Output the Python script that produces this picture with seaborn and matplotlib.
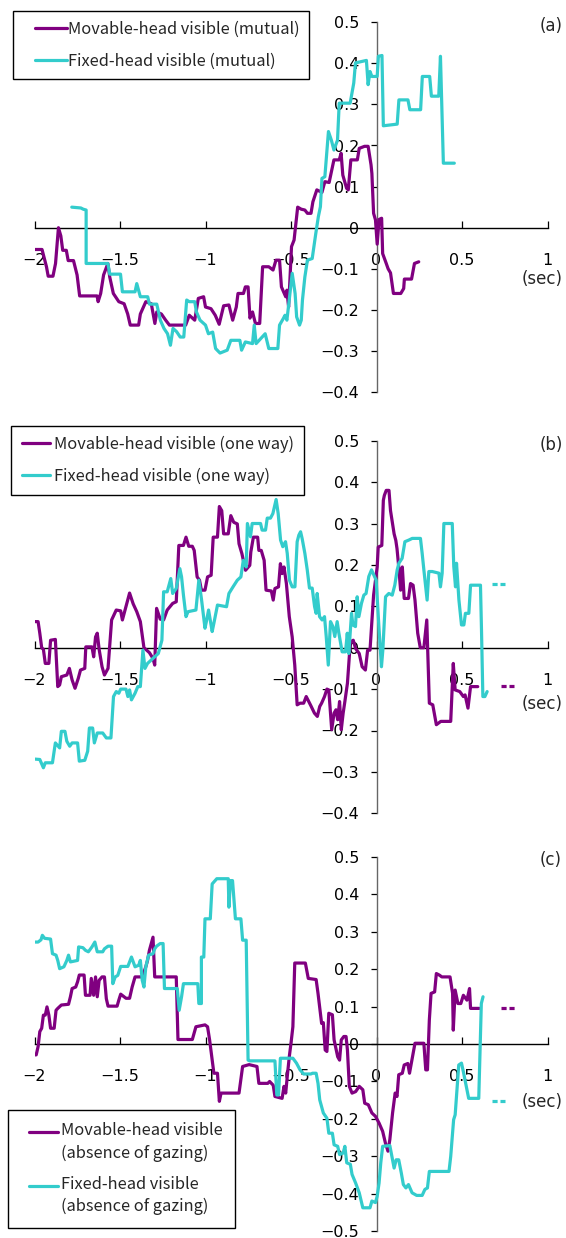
import numpy as np
import matplotlib
matplotlib.use("Agg")
import matplotlib.pyplot as plt
import seaborn as sns
from matplotlib.legend_handler import HandlerLine2D

# ---------------------------------------------------------------------------
# Cross-correlation curves, time lag in seconds vs. correlation value
# ---------------------------------------------------------------------------

# (a) mutual gaze
mov_mutual = [(-2.0,-0.053),(-1.956,-0.053),(-1.93,-0.095),(-1.92,-0.118),(-1.892,-0.118),(-1.877,-0.087),
    (-1.86,0.0),(-1.846,-0.02),(-1.835,-0.055),(-1.814,-0.055),(-1.803,-0.08),(-1.772,-0.08),(-1.751,-0.115),
    (-1.736,-0.166),(-1.634,-0.166),(-1.628,-0.18),(-1.613,-0.16),(-1.596,-0.115),(-1.571,-0.087),(-1.56,-0.12),
    (-1.539,-0.16),(-1.507,-0.18),(-1.476,-0.185),(-1.455,-0.21),(-1.44,-0.237),(-1.391,-0.237),(-1.381,-0.21),
    (-1.349,-0.18),(-1.317,-0.185),(-1.296,-0.233),(-1.285,-0.205),(-1.258,-0.21),(-1.233,-0.225),(-1.211,-0.237),
    (-1.116,-0.237),(-1.095,-0.213),(-1.063,-0.225),(-1.042,-0.172),(-1.011,-0.168),(-1.0,-0.193),(-0.968,-0.197),
    (-0.943,-0.213),(-0.92,-0.235),(-0.894,-0.19),(-0.863,-0.188),(-0.841,-0.225),(-0.82,-0.193),(-0.81,-0.16),
    (-0.778,-0.16),(-0.767,-0.144),(-0.751,-0.144),(-0.74,-0.22),(-0.725,-0.205),(-0.708,-0.233),(-0.683,-0.233),
    (-0.666,-0.095),(-0.63,-0.095),(-0.605,-0.103),(-0.588,-0.079),(-0.567,-0.079),(-0.556,-0.144),(-0.531,-0.168),
    (-0.524,-0.152),(-0.514,-0.193),(-0.497,-0.046),(-0.482,-0.03),(-0.461,0.05),(-0.44,0.045),(-0.419,0.043),
    (-0.404,0.035),(-0.383,0.035),(-0.372,0.063),(-0.349,0.092),(-0.319,0.086),(-0.302,0.112),(-0.277,0.11),
    (-0.249,0.165),(-0.218,0.165),(-0.207,0.181),(-0.197,0.128),(-0.175,0.096),(-0.165,0.092),(-0.15,0.165),
    (-0.112,0.165),(-0.101,0.193),(-0.07,0.198),(-0.049,0.198),(-0.032,0.153),(-0.027,0.132),(-0.017,0.035),
    (-0.006,0.019),(0.004,-0.04),(0.015,0.02),(0.03,0.023),(0.036,-0.063),(0.057,-0.087),(0.068,-0.1),
    (0.082,-0.11),(0.099,-0.16),(0.142,-0.16),(0.159,-0.148),(0.163,-0.125),(0.205,-0.125),(0.222,-0.087),
    (0.247,-0.083)]

fix_mutual = [(-1.782,0.05),(-1.729,0.048),(-1.715,0.045),(-1.698,0.043),(-1.698,-0.087),(-1.571,-0.087),
    (-1.56,-0.113),(-1.497,-0.113),(-1.486,-0.156),(-1.412,-0.156),(-1.402,-0.136),(-1.381,-0.168),(-1.338,-0.168),
    (-1.328,-0.186),(-1.285,-0.186),(-1.264,-0.225),(-1.243,-0.245),(-1.222,-0.258),(-1.205,-0.286),(-1.19,-0.245),
    (-1.169,-0.253),(-1.148,-0.266),(-1.127,-0.266),(-1.11,-0.176),(-1.095,-0.18),(-1.063,-0.18),(-1.053,-0.205),
    (-1.032,-0.225),(-1.0,-0.237),(-0.983,-0.258),(-0.958,-0.254),(-0.941,-0.294),(-0.915,-0.305),(-0.873,-0.298),
    (-0.852,-0.274),(-0.799,-0.274),(-0.789,-0.298),(-0.767,-0.278),(-0.725,-0.282),(-0.715,-0.237),(-0.704,-0.282),
    (-0.651,-0.258),(-0.63,-0.294),(-0.577,-0.294),(-0.567,-0.237),(-0.545,-0.221),(-0.535,-0.213),(-0.524,-0.225),
    (-0.514,-0.189),(-0.493,-0.111),(-0.476,-0.16),(-0.467,-0.217),(-0.45,-0.237),(-0.44,-0.225),(-0.433,-0.176),
    (-0.419,-0.12),(-0.404,-0.079),(-0.376,-0.075),(-0.355,-0.014),(-0.34,0.027),(-0.328,0.051),(-0.319,0.12),
    (-0.302,0.124),(-0.281,0.234),(-0.264,0.213),(-0.249,0.189),(-0.228,0.213),(-0.218,0.303),(-0.154,0.303),
    (-0.133,0.352),(-0.123,0.401),(-0.059,0.407),(-0.049,0.348),(-0.038,0.38),(-0.027,0.368),(0.004,0.368),
    (0.011,0.417),(0.032,0.419),(0.04,0.248),(0.121,0.252),(0.131,0.311),(0.184,0.311),(0.195,0.287),
    (0.258,0.287),(0.268,0.368),(0.311,0.368),(0.321,0.32),(0.364,0.32),(0.374,0.417),(0.391,0.157),(0.455,0.157)]

# (b) one-way gaze
mov_oneway = [(-2.0,0.063),(-1.979,0.063),(-1.969,0.035),(-1.958,0.0),(-1.948,-0.004),(-1.937,-0.038),
    (-1.916,-0.038),(-1.906,0.018),(-1.878,0.02),(-1.864,-0.094),(-1.853,-0.09),(-1.843,-0.07),(-1.811,-0.066),
    (-1.796,-0.05),(-1.78,-0.078),(-1.763,-0.098),(-1.744,-0.074),(-1.731,-0.054),(-1.706,-0.05),(-1.7,0.002),
    (-1.664,0.002),(-1.654,-0.022),(-1.643,0.026),(-1.633,0.035),(-1.622,-0.004),(-1.605,-0.046),(-1.591,-0.066),
    (-1.57,-0.05),(-1.549,0.067),(-1.522,0.091),(-1.496,0.089),(-1.486,0.067),(-1.465,0.1),(-1.444,0.132),
    (-1.423,0.106),(-1.402,0.087),(-1.381,0.063),(-1.36,0.0),(-1.328,-0.012),(-1.307,-0.026),(-1.297,-0.042),
    (-1.286,0.095),(-1.265,0.069),(-1.245,0.067),(-1.224,0.091),(-1.192,0.107),(-1.171,0.111),(-1.156,0.247),
    (-1.129,0.247),(-1.114,0.267),(-1.098,0.245),(-1.077,0.245),(-1.066,0.235),(-1.049,0.171),(-1.035,0.163),
    (-1.024,0.139),(-1.003,0.139),(-0.988,0.171),(-0.967,0.175),(-0.955,0.267),(-0.93,0.267),(-0.919,0.341),
    (-0.905,0.331),(-0.894,0.275),(-0.867,0.275),(-0.852,0.319),(-0.835,0.303),(-0.814,0.299),(-0.804,0.251),
    (-0.787,0.227),(-0.766,0.187),(-0.741,0.199),(-0.735,0.231),(-0.72,0.267),(-0.695,0.267),(-0.688,0.235),
    (-0.674,0.235),(-0.657,0.211),(-0.646,0.139),(-0.615,0.137),(-0.604,0.115),(-0.594,0.143),(-0.573,0.147),
    (-0.562,0.203),(-0.552,0.179),(-0.541,0.195),(-0.527,0.155),(-0.51,0.075),(-0.493,0.026),(-0.478,-0.042),
    (-0.464,-0.138),(-0.447,-0.134),(-0.426,-0.134),(-0.411,-0.118),(-0.384,-0.14),(-0.363,-0.158),(-0.346,-0.166),
    (-0.332,-0.142),(-0.321,-0.134),(-0.304,-0.118),(-0.29,-0.1),(-0.279,-0.102),(-0.262,-0.198),(-0.248,-0.158),
    (-0.237,-0.15),(-0.227,-0.174),(-0.216,-0.13),(-0.206,-0.198),(-0.195,-0.158),(-0.185,-0.13),(-0.17,-0.086),
    (-0.153,0.014),(-0.136,0.018),(-0.122,-0.002),(-0.101,-0.014),(-0.084,-0.046),(-0.065,-0.054),(-0.052,-0.006),
    (-0.038,-0.006),(-0.017,0.127),(0.004,0.195),(0.01,0.243),(0.031,0.247),(0.04,0.356),(0.046,0.368),
    (0.057,0.38),(0.073,0.38),(0.082,0.331),(0.103,0.275),(0.113,0.259),(0.12,0.239),(0.13,0.195),(0.141,0.139),
    (0.151,0.195),(0.162,0.119),(0.187,0.119),(0.199,0.155),(0.214,0.151),(0.225,0.115),(0.241,0.035),(0.256,0.0),
    (0.277,0.0),(0.294,0.067),(0.309,-0.134),(0.329,-0.138),(0.35,-0.186),(0.376,-0.178),(0.434,-0.178),
    (0.449,-0.038),(0.46,-0.102),(0.487,-0.106),(0.508,-0.118),(0.518,-0.114),(0.535,-0.146),(0.55,-0.094),
    (0.592,-0.094)]

fix_oneway = [(-2.0,-0.269),(-1.969,-0.27),(-1.948,-0.29),(-1.937,-0.278),(-1.895,-0.278),(-1.878,-0.23),
    (-1.853,-0.242),(-1.843,-0.202),(-1.822,-0.202),(-1.811,-0.226),(-1.794,-0.238),(-1.78,-0.23),(-1.748,-0.23),
    (-1.738,-0.274),(-1.706,-0.272),(-1.689,-0.25),(-1.679,-0.194),(-1.66,-0.194),(-1.65,-0.23),(-1.633,-0.206),
    (-1.601,-0.206),(-1.58,-0.218),(-1.553,-0.218),(-1.538,-0.118),(-1.522,-0.106),(-1.507,-0.11),(-1.496,-0.1),
    (-1.465,-0.1),(-1.454,-0.118),(-1.444,-0.102),(-1.433,-0.126),(-1.412,-0.11),(-1.396,-0.094),(-1.381,-0.094),
    (-1.366,-0.006),(-1.354,-0.05),(-1.339,-0.038),(-1.318,-0.03),(-1.297,-0.022),(-1.276,-0.014),(-1.255,0.018),
    (-1.245,0.135),(-1.224,0.135),(-1.203,0.167),(-1.192,0.131),(-1.171,0.143),(-1.15,0.191),(-1.14,0.171),
    (-1.129,0.127),(-1.114,0.075),(-1.102,0.087),(-1.056,0.091),(-1.039,0.163),(-1.024,0.119),(-1.003,0.047),
    (-0.993,0.067),(-0.982,0.091),(-0.961,0.039),(-0.951,0.059),(-0.93,0.103),(-0.877,0.099),(-0.863,0.131),
    (-0.839,0.147),(-0.814,0.163),(-0.793,0.171),(-0.779,0.211),(-0.762,0.195),(-0.755,0.300),(-0.737,0.268),
    (-0.727,0.300),(-0.678,0.300),(-0.669,0.284),(-0.649,0.284),(-0.639,0.313),(-0.620,0.313),(-0.606,0.324),
    (-0.587,0.358),(-0.575,0.324),(-0.561,0.260),(-0.548,0.244),(-0.532,0.256),(-0.522,0.228),(-0.509,0.163),
    (-0.493,0.147),(-0.477,0.147),(-0.464,0.256),(-0.454,0.272),(-0.444,0.280),(-0.435,0.264),(-0.419,0.228),
    (-0.405,0.188),(-0.392,0.144),(-0.376,0.144),(-0.362,0.099),(-0.353,0.083),(-0.347,0.131),(-0.333,0.075),
    (-0.318,0.067),(-0.304,0.075),(-0.294,0.027),(-0.282,-0.042),(-0.269,0.063),(-0.255,0.051),(-0.244,0.027),
    (-0.230,0.063),(-0.220,0.035),(-0.201,-0.010),(-0.181,-0.010),(-0.171,0.035),(-0.162,-0.014),(-0.146,0.083),
    (-0.138,0.055),(-0.123,0.051),(-0.113,0.123),(-0.103,0.075),(-0.088,0.107),(-0.074,0.127),(-0.061,0.131),
    (-0.045,0.172),(-0.029,0.188),(-0.016,0.176),(-0.002,0.163),(0.014,0.051),(0.029,-0.046),(0.037,-0.006),
    (0.053,0.123),(0.072,0.131),(0.092,0.127),(0.107,0.151),(0.121,0.188),(0.131,0.204),(0.150,0.216),
    (0.166,0.256),(0.189,0.260),(0.209,0.264),(0.257,0.264),(0.267,0.228),(0.277,0.188),(0.296,0.115),
    (0.306,0.184),(0.326,0.184),(0.365,0.180),(0.374,0.147),(0.384,0.180),(0.394,0.300),(0.443,0.300),
    (0.452,0.196),(0.462,0.147),(0.468,0.204),(0.482,0.115),(0.497,0.055),(0.511,0.055),(0.520,0.083),
    (0.540,0.083),(0.550,0.151),(0.608,0.151),(0.614,0.043),(0.622,-0.118),(0.634,-0.118),(0.647,-0.106)]

mov_oneway_tail = [(0.728,-0.093),(0.805,-0.093)]
fix_oneway_tail = [(0.676,0.155),(0.749,0.155)]

# (c) absence of gazing
mov_absence = [(-2.0,-0.029),(-1.99,-0.029),(-1.979,-0.007),(-1.969,0.033),(-1.958,0.042),(-1.948,0.077),
    (-1.937,0.077),(-1.927,0.099),(-1.916,0.077),(-1.906,0.042),(-1.885,0.042),(-1.874,0.09),(-1.864,0.095),
    (-1.843,0.104),(-1.801,0.106),(-1.79,0.126),(-1.78,0.148),(-1.759,0.152),(-1.748,0.166),(-1.738,0.184),
    (-1.71,0.184),(-1.702,0.13),(-1.675,0.13),(-1.668,0.175),(-1.654,0.13),(-1.643,0.179),(-1.633,0.126),
    (-1.622,0.17),(-1.605,0.179),(-1.591,0.179),(-1.58,0.121),(-1.57,0.101),(-1.517,0.101),(-1.507,0.117),
    (-1.496,0.133),(-1.465,0.122),(-1.444,0.122),(-1.429,0.152),(-1.412,0.179),(-1.37,0.179),(-1.349,0.206),
    (-1.339,0.223),(-1.328,0.25),(-1.312,0.277),(-1.307,0.285),(-1.297,0.179),(-1.171,0.179),(-1.161,0.012),
    (-1.077,0.012),(-1.056,0.046),(-1.003,0.051),(-0.988,0.046),(-0.976,0.011),(-0.961,-0.043),(-0.951,-0.078),
    (-0.93,-0.078),(-0.919,-0.153),(-0.909,-0.131),(-0.804,-0.131),(-0.783,-0.06),(-0.745,-0.055),(-0.699,-0.06),
    (-0.688,-0.105),(-0.636,-0.105),(-0.625,-0.1),(-0.604,-0.11),(-0.594,-0.14),(-0.552,-0.145),(-0.541,-0.113),
    (-0.531,-0.131),(-0.52,-0.078),(-0.51,-0.034),(-0.499,0.006),(-0.489,0.046),(-0.478,0.216),(-0.416,0.216),
    (-0.399,0.175),(-0.353,0.172),(-0.342,0.135),(-0.321,0.055),(-0.311,0.057),(-0.3,-0.016),(-0.29,-0.02),
    (-0.279,0.082),(-0.258,0.078),(-0.248,0.011),(-0.227,-0.034),(-0.216,-0.043),(-0.206,0.011),(-0.191,0.02),
    (-0.178,0.02),(-0.17,-0.016),(-0.159,-0.113),(-0.143,-0.131),(-0.122,-0.127),(-0.101,-0.113),(-0.08,-0.122),
    (-0.069,-0.158),(-0.048,-0.162),(-0.027,-0.184),(-0.006,-0.193),(0.015,-0.211),(0.036,-0.233),(0.052,-0.264),
    (0.067,-0.286),(0.078,-0.255),(0.094,-0.184),(0.109,-0.131),(0.12,-0.14),(0.13,-0.082),(0.151,-0.078),
    (0.162,-0.056),(0.183,-0.052),(0.193,-0.078),(0.225,0.002),(0.277,0.002),(0.288,-0.069),(0.298,-0.069),
    (0.309,0.064),(0.319,0.135),(0.34,0.139),(0.35,0.188),(0.367,0.184),(0.382,0.179),(0.43,0.179),(0.445,0.135),
    (0.449,0.037),(0.46,0.144),(0.476,0.108),(0.493,0.108),(0.508,0.13),(0.529,0.117),(0.544,0.148),(0.55,0.095),
    (0.602,0.095)]

fix_absence = [(-2.0,0.272),(-1.979,0.272),(-1.962,0.278),(-1.954,0.29),(-1.941,0.282),(-1.906,0.28),
    (-1.895,0.241),(-1.874,0.237),(-1.864,0.223),(-1.853,0.201),(-1.828,0.206),(-1.811,0.223),(-1.801,0.237),
    (-1.79,0.219),(-1.748,0.223),(-1.742,0.259),(-1.717,0.257),(-1.702,0.25),(-1.685,0.246),(-1.664,0.259),
    (-1.647,0.272),(-1.633,0.246),(-1.601,0.246),(-1.591,0.254),(-1.57,0.261),(-1.549,0.261),(-1.542,0.161),
    (-1.528,0.179),(-1.513,0.183),(-1.496,0.207),(-1.454,0.207),(-1.433,0.232),(-1.412,0.206),(-1.391,0.21),
    (-1.381,0.223),(-1.37,0.17),(-1.36,0.152),(-1.349,0.206),(-1.333,0.237),(-1.307,0.241),(-1.297,0.254),
    (-1.286,0.261),(-1.265,0.268),(-1.248,0.268),(-1.24,0.148),(-1.165,0.148),(-1.154,0.09),(-1.14,0.126),
    (-1.129,0.161),(-1.045,0.161),(-1.039,0.108),(-1.024,0.108),(-1.024,0.232),(-1.01,0.232),(-1.003,0.334),
    (-0.972,0.334),(-0.961,0.427),(-0.934,0.441),(-0.867,0.441),(-0.863,0.365),(-0.854,0.436),(-0.842,0.436),
    (-0.825,0.334),(-0.793,0.334),(-0.783,0.277),(-0.762,0.277),(-0.751,-0.043),(-0.741,-0.045),(-0.594,-0.045),
    (-0.583,-0.136),(-0.573,-0.136),(-0.562,-0.038),(-0.489,-0.038),(-0.468,-0.051),(-0.447,-0.069),(-0.426,-0.08),
    (-0.384,-0.08),(-0.374,-0.078),(-0.353,-0.078),(-0.342,-0.105),(-0.332,-0.149),(-0.311,-0.184),(-0.29,-0.198),
    (-0.279,-0.238),(-0.258,-0.238),(-0.248,-0.269),(-0.227,-0.273),(-0.216,-0.295),(-0.195,-0.291),(-0.185,-0.273),
    (-0.174,-0.317),(-0.153,-0.321),(-0.143,-0.348),(-0.122,-0.371),(-0.101,-0.397),(-0.08,-0.437),(-0.038,-0.437),
    (-0.027,-0.419),(-0.006,-0.423),(0.004,-0.406),(0.015,-0.371),(0.025,-0.317),(0.036,-0.273),(0.078,-0.271),
    (0.088,-0.295),(0.103,-0.331),(0.115,-0.309),(0.13,-0.309),(0.145,-0.344),(0.157,-0.375),(0.172,-0.384),
    (0.187,-0.375),(0.199,-0.388),(0.208,-0.397),(0.235,-0.404),(0.267,-0.404),(0.283,-0.388),(0.298,-0.384),
    (0.309,-0.34),(0.424,-0.34),(0.434,-0.3),(0.451,-0.202),(0.46,-0.189),(0.472,-0.113),(0.481,-0.056),
    (0.497,-0.051),(0.508,-0.074),(0.529,-0.122),(0.539,-0.145),(0.598,-0.145),(0.613,0.108),(0.623,0.126)]

mov_absence_tail = [(0.728,0.097),(0.812,0.097)]
fix_absence_tail = [(0.676,-0.153),(0.749,-0.153)]

# Axis ticks and labels
x_ticks = [-2, -1.5, -1, -0.5, 0, 0.5, 1]
x_tick_labels = ["\u22122", "\u22121.5", "\u22121", "\u22120.5", "0", "0.5", "1"]
y_ticks_ab = [0.5, 0.4, 0.3, 0.2, 0.1, 0.0, -0.1, -0.2, -0.3, -0.4]
y_tick_labels_ab = ["0.5", "0.4", "0.3", "0.2", "0.1", "0", "\u22120.1", "\u22120.2", "\u22120.3", "\u22120.4"]
y_ticks_c = [0.5, 0.4, 0.3, 0.2, 0.1, 0.0, -0.1, -0.2, -0.3, -0.4, -0.5]
y_tick_labels_c = y_tick_labels_ab + ["\u22120.5"]

legend_labels_a = ["Movable-head visible (mutual)", "Fixed-head visible (mutual)"]
legend_labels_b = ["Movable-head visible (one way)", "Fixed-head visible (one way)"]
legend_labels_c = ["Movable-head visible\n(absence of gazing)", "Fixed-head visible\n(absence of gazing)"]

PURPLE = "#800080"
CYAN = "#33CCCC"
LW = 2.3
TICK_FONT = "DejaVu Sans"
LEG_FS = 11.8

# ---------------------------------------------------------------------------
sns.set_style("white")
plt.rcParams["font.family"] = ["Noto Sans CJK JP", "DejaVu Sans"]

W, H = 566, 1238
fig = plt.figure(figsize=(W / 100, H / 100), dpi=100)
fig.patch.set_facecolor("white")


def px_axes(left, top, right, bottom):
    """Create axes from a pixel box measured from the top-left corner."""
    return fig.add_axes([left / W, 1 - bottom / H, (right - left) / W, (bottom - top) / H])


class FirstLineHandler(HandlerLine2D):
    """Legend line handler that can lift the sample line to a label's first row."""

    def __init__(self, dy=0.0, **kw):
        super().__init__(**kw)
        self.dy = dy

    def create_artists(self, legend, orig_handle, xdescent, ydescent, width, height, fontsize, trans):
        arts = super().create_artists(legend, orig_handle, xdescent, ydescent, width, height, fontsize, trans)
        for a in arts:
            a.set_ydata(np.asarray(a.get_ydata(), dtype=float) + self.dy)
        return arts


def draw_curve(ax, pts, color, **kw):
    arr = np.asarray(pts, dtype=float)
    sns.lineplot(x=arr[:, 0], y=arr[:, 1], sort=False, estimator=None, color=color,
                 linewidth=LW, ax=ax, legend=False, zorder=3, **kw)
    return ax.lines[-1]


def style_axes(ax, ylim, yticks, ylabels, sec_y, letter):
    ax.set_xlim(-2, 1)
    ax.set_ylim(*ylim)
    ax.set_facecolor("none")
    for side in ("top", "right"):
        ax.spines[side].set_visible(False)
    ax.spines["left"].set_position(("data", 0))
    ax.spines["bottom"].set_position(("data", 0))
    ax.spines["left"].set_color("#666666")
    ax.spines["bottom"].set_color("black")
    ax.spines["left"].set_linewidth(1.0)
    ax.spines["bottom"].set_linewidth(1.0)
    ax.set_xticks(x_ticks)
    ax.set_xticklabels(x_tick_labels, fontfamily=TICK_FONT)
    ax.set_yticks(yticks)
    ax.set_yticklabels(ylabels, fontfamily=TICK_FONT)
    ax.tick_params(axis="x", bottom=True, direction="in", length=5, width=0.9,
                   pad=18, labelsize=11.5, colors="black")
    ax.tick_params(axis="y", left=True, direction="out", length=4.5, width=0.9,
                   pad=8, labelsize=11.5, colors="black")
    ax.set_xlabel("")
    ax.set_ylabel("")
    ax.text(0.97, sec_y, "(sec)", ha="center", va="center", fontsize=12,
            fontfamily=TICK_FONT, clip_on=False)
    ax.text(1.02, ylim[1] - 0.01, letter, ha="center", va="center", fontsize=12,
            fontfamily=TICK_FONT, clip_on=False)


def add_legend(ax, handles, labels, box_left, box_top, handlelength, handletextpad,
               xpad=0.0, borderpad=0.6, labelspacing=0.9, dy=0.0, linespacing=None):
    leg = ax.legend(handles=handles, labels=labels, loc="upper left",
                    bbox_to_anchor=(box_left / W, 1 - box_top / H), bbox_transform=fig.transFigure,
                    borderaxespad=0, frameon=True, fancybox=False, shadow=False, fontsize=LEG_FS,
                    handlelength=handlelength, handletextpad=handletextpad, borderpad=borderpad,
                    labelspacing=labelspacing,
                    handler_map={h: FirstLineHandler(dy=dy, xpad=xpad) for h in handles})
    frame = leg.get_frame()
    frame.set_edgecolor("black")
    frame.set_linewidth(1.0)
    frame.set_facecolor("white")
    frame.set_alpha(1)
    if linespacing is not None:
        for t in leg.get_texts():
            t.set_linespacing(linespacing)
    return leg


# ---- panel (a)
ax_a = px_axes(34.5, 22.2, 547.5, 392.1)
h1 = draw_curve(ax_a, mov_mutual, PURPLE)
h2 = draw_curve(ax_a, fix_mutual, CYAN)
style_axes(ax_a, (-0.4, 0.5), y_ticks_ab, y_tick_labels_ab, -0.125, "(a)")
add_legend(ax_a, [h1, h2], legend_labels_a, 13.3, 11, handlelength=2.68, handletextpad=0.06,
           xpad=0.73, labelspacing=0.9)

# ---- panel (b)
ax_b = px_axes(34.5, 440.7, 547.5, 813.3)
h1 = draw_curve(ax_b, mov_oneway, PURPLE)
h2 = draw_curve(ax_b, fix_oneway, CYAN)
draw_curve(ax_b, mov_oneway_tail, PURPLE, linestyle=(0, (1.6, 0.9)))
draw_curve(ax_b, fix_oneway_tail, CYAN, linestyle=(0, (1.6, 0.9)))
style_axes(ax_b, (-0.4, 0.5), y_ticks_ab, y_tick_labels_ab, -0.136, "(b)")
add_legend(ax_b, [h1, h2], legend_labels_b, 10.8, 426, handlelength=1.82, handletextpad=0.21,
           xpad=0.07, labelspacing=0.9)

# ---- panel (c)
ax_c = px_axes(34.5, 856.6, 547.5, 1231.4)
h1 = draw_curve(ax_c, mov_absence, PURPLE)
h2 = draw_curve(ax_c, fix_absence, CYAN)
draw_curve(ax_c, mov_absence_tail, PURPLE, linestyle=(0, (1.6, 0.9)))
draw_curve(ax_c, fix_absence_tail, CYAN, linestyle=(0, (1.6, 0.9)))
style_axes(ax_c, (-0.5, 0.5), y_ticks_c, y_tick_labels_c, -0.156, "(c)")
add_legend(ax_c, [h1, h2], legend_labels_c, 8.0, 1110, handlelength=2.3, handletextpad=0.18,
           xpad=0.53, borderpad=0.75, labelspacing=0.85, dy=7.6, linespacing=1.4)

fig.savefig("out.png", dpi=100, facecolor="white")
